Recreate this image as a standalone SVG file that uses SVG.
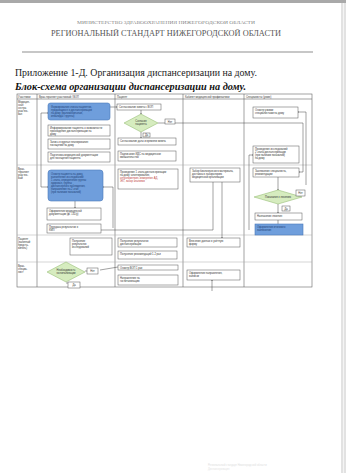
<svg xmlns="http://www.w3.org/2000/svg" width="346" height="473" viewBox="0 0 346 473">
<defs>
<marker id="ah" viewBox="0 0 6 6" refX="5.5" refY="3" markerWidth="3" markerHeight="3" orient="auto"><path d="M0,0 L6,3 L0,6 z" fill="#333"/></marker>
<style>
.ttl{font-family:"Liberation Serif",serif;}
.t{font-family:"Liberation Sans",Arial,sans-serif;font-size:2.6px;fill:#333;}
.tb{font-family:"Liberation Sans",Arial,sans-serif;font-size:2.6px;fill:#1f3f77;}
.tr{font-family:"Liberation Sans",Arial,sans-serif;font-size:2.6px;fill:#c04040;}
.box{fill:#fff;stroke:#555;stroke-width:0.5;}
.blue{fill:#6f9edc;stroke:#4a78b8;stroke-width:0.6;}
.dia{fill:#d6ecbf;stroke:#8ab566;stroke-width:0.5;}
.grid{stroke:#666;stroke-width:0.6;fill:none;}
.gridl{stroke:#aaa;stroke-width:0.5;fill:none;}
.c{stroke:#444;stroke-width:0.5;fill:none;}
.ca{stroke:#444;stroke-width:0.5;fill:none;marker-end:url(#ah);}
</style>
</defs>
<rect x="0" y="0" width="346" height="473" fill="#fff"/>
<rect x="0" y="0" width="346" height="3" fill="#a9a9a9"/>
<rect x="341" y="3" width="5" height="470" fill="#e2e2e2"/>
<rect x="343" y="3" width="1" height="470" fill="#f4f4f4"/>

<g id="header">
<text class="ttl" x="166" y="24" font-size="5" fill="#888" text-anchor="middle" textLength="178" lengthAdjust="spacingAndGlyphs">МИНИСТЕРСТВО ЗДРАВООХРАНЕНИЯ НИЖЕГОРОДСКОЙ ОБЛАСТИ</text>
<text class="ttl" x="166" y="36" font-size="7.5" fill="#555" text-anchor="middle" textLength="230" lengthAdjust="spacingAndGlyphs">РЕГИОНАЛЬНЫЙ СТАНДАРТ НИЖЕГОРОДСКОЙ ОБЛАСТИ</text>
<line x1="22" y1="52" x2="313" y2="52" stroke="#b5b5b5" stroke-width="1.5"/>
<text class="ttl" x="15" y="76" font-size="10" fill="#222" textLength="242" lengthAdjust="spacingAndGlyphs">Приложение 1-Д. Организация  диспансеризации на дому.</text>
<text class="ttl" x="15" y="90" font-size="10" fill="#111" font-weight="bold" font-style="italic" textLength="231" lengthAdjust="spacingAndGlyphs">Блок-схема организации диспансеризации на дому.</text>
</g>

<g id="table">
<rect class="grid" x="17" y="94" width="295" height="193"/>
<line class="grid" x1="37" y1="94" x2="37" y2="287"/>
<line class="grid" x1="115" y1="94" x2="115" y2="287"/>
<line class="grid" x1="183" y1="94" x2="183" y2="287"/>
<line class="grid" x1="244" y1="94" x2="244" y2="287"/>
<line class="grid" x1="17" y1="99" x2="312" y2="99"/>
<line class="gridl" x1="17" y1="165" x2="312" y2="165"/>
<line class="gridl" x1="17" y1="235" x2="312" y2="235"/>
<line class="gridl" x1="17" y1="262" x2="312" y2="262"/>
<text class="t" x="18" y="97.7">Участники</text>
<text class="t" x="39" y="97.7">Врач-терапевт участковый / ВОП</text>
<text class="t" x="117" y="97.7">Пациент</text>
<text class="t" x="185" y="97.7">Кабинет медицинской профилактики</text>
<text class="t" x="246" y="97.7">Специалисты (узкие)</text>
<text class="t" x="18" y="103">Медицин-</text><text class="t" x="18" y="106">ская</text><text class="t" x="18" y="109">сестра</text><text class="t" x="18" y="112">участко-</text><text class="t" x="18" y="115">вая</text>
<text class="t" x="18" y="170">Врач-</text><text class="t" x="18" y="173">терапевт</text><text class="t" x="18" y="176">участко-</text><text class="t" x="18" y="179">вый</text>
<text class="t" x="18" y="240">Пациент</text><text class="t" x="18" y="243">(законный</text><text class="t" x="18" y="246">предста-</text><text class="t" x="18" y="249">витель)</text>
<text class="t" x="18" y="267">Врач-</text><text class="t" x="18" y="270">специа-</text><text class="t" x="18" y="273">лист</text>
</g>

<g id="connectors">
<line class="ca" x1="41" y1="113" x2="48" y2="113"/>
<line class="c" x1="41" y1="113" x2="41" y2="187"/>
<line class="ca" x1="41" y1="187" x2="48" y2="187"/>
<line class="ca" x1="110" y1="107" x2="117" y2="107"/>
<line class="ca" x1="141" y1="110" x2="141" y2="114"/>
<line class="ca" x1="141" y1="132" x2="141" y2="138"/>
<polyline class="c" points="158,123 303,123 303,172"/>
<line class="ca" x1="303" y1="172" x2="299" y2="172"/>
<polyline class="c" points="306,185 306,112"/>
<line class="ca" x1="306" y1="112" x2="298" y2="112"/>
<polyline class="c" points="249,230 249,155"/>
<line class="ca" x1="249" y1="155" x2="253" y2="155"/>
<line class="ca" x1="278" y1="177" x2="278" y2="190"/>
<line class="ca" x1="278" y1="204" x2="278" y2="213"/>
<line class="c" x1="278" y1="220" x2="278" y2="224"/>
<polyline class="c" points="113,228 113,187"/>
<line class="ca" x1="113" y1="187" x2="103" y2="187"/>
<line class="ca" x1="75" y1="201" x2="75" y2="208"/>
<polyline class="c" points="213,182 213,230 101,230"/>
<polyline class="ca" points="222,182 222,238"/>
<line class="ca" x1="66" y1="283" x2="72" y2="283"/>
<line class="c" x1="85" y1="271" x2="87" y2="271"/>
<line class="ca" x1="212" y1="291" x2="212" y2="280"/>
<line class="c" x1="100" y1="270" x2="118" y2="267"/>
</g>

<g id="n-col2-blue1">
<rect class="blue" x="48" y="103" width="62" height="17" rx="2.5"/>
<text class="tb" x="51" y="108">Формирование списка пациентов,</text>
<text class="tb" x="51" y="111">нуждающихся в диспансеризации</text>
<text class="tb" x="51" y="114">на дому (маломобильные,</text>
<text class="tb" x="51" y="117">инвалиды I группы)</text>
</g>
<g id="n-col2-b2">
<rect class="box" x="48" y="125" width="62" height="11"/>
<text class="t" x="50" y="129">Информирование пациента о возможности</text>
<text class="t" x="50" y="132">прохождения диспансеризации на</text>
<text class="t" x="50" y="135">дому</text>
</g>
<g id="n-col2-b3">
<rect class="box" x="48" y="139" width="62" height="10"/>
<text class="t" x="50" y="143">Запись в журнал планирования</text>
<text class="t" x="50" y="146">посещений на дому</text>
</g>
<g id="n-col2-b4">
<rect class="box" x="48" y="152" width="62" height="10"/>
<text class="t" x="50" y="156">Подготовка медицинской документации</text>
<text class="t" x="50" y="159">для посещения пациента</text>
</g>

<g id="n-col3-visit">
<rect class="box" x="117" y="104" width="44" height="6"/>
<text class="t" x="119" y="108">Согласование визита с ВОП</text>
</g>
<g id="n-col3-dia">
<polygon class="dia" points="141,114 158,123 141,132 124,123"/>
<text class="t" x="141" y="122" text-anchor="middle">Согласие</text>
<text class="t" x="141" y="125" text-anchor="middle">пациента</text>
</g>
<g id="n-col3-no">
<rect class="box" x="165" y="119" width="10" height="5"/>
<text class="t" x="170" y="122.5" text-anchor="middle">Нет</text>
</g>
<g id="n-col3-yes">
<rect class="box" x="143" y="133" width="7" height="4"/>
<text class="t" x="146.5" y="136" text-anchor="middle">Да</text>
</g>
<g id="n-col3-a">
<rect class="box" x="118" y="138" width="58" height="7"/>
<text class="t" x="120" y="142">Согласование даты и времени визита</text>
</g>
<g id="n-col3-b">
<rect class="box" x="118" y="151" width="58" height="10"/>
<text class="t" x="120" y="155">Подписание ИДС на медицинское</text>
<text class="t" x="120" y="158">вмешательство</text>
</g>
<g id="n-col3-r2">
<rect class="box" x="118" y="169" width="60" height="20"/>
<text class="t" x="120" y="173">Проведение 1 этапа диспансеризации</text>
<text class="t" x="120" y="176">на дому: анкетирование,</text>
<text class="tr" x="120" y="179">антропометрия, измерение АД,</text>
<text class="tr" x="120" y="182">ЭКГ, забор анализов</text>
</g>

<g id="n-col2-blue2">
<rect class="blue" x="48" y="170" width="55" height="31" rx="3"/>
<text class="tb" x="51" y="175">Осмотр пациента на дому,</text>
<text class="tb" x="51" y="178">выполнение исследований</text>
<text class="tb" x="51" y="181">1 этапа, определение группы</text>
<text class="tb" x="51" y="184">здоровья, группы</text>
<text class="tb" x="51" y="187">диспансерного наблюдения,</text>
<text class="tb" x="51" y="190">направление на 2 этап</text>
<text class="tb" x="51" y="193">(при наличии показаний)</text>
</g>
<g id="n-col2-r2b">
<rect class="box" x="47" y="208" width="54" height="12"/>
<text class="t" x="49" y="212">Оформление медицинской</text>
<text class="t" x="49" y="215">документации (ф. 131/у)</text>
</g>
<g id="n-col2-r2c">
<rect class="box" x="47" y="224" width="54" height="9"/>
<text class="t" x="49" y="228">Передача результатов в</text>
<text class="t" x="49" y="231">КМП</text>
</g>

<g id="n-col4-r2">
<rect class="box" x="190" y="168" width="50" height="14"/>
<text class="t" x="192" y="172">Забор биологического материала,</text>
<text class="t" x="192" y="175">доставка в лабораторию</text>
<text class="t" x="192" y="178">медицинской организации</text>
</g>

<g id="n-col5-a">
<rect class="box" x="253" y="107" width="45" height="11"/>
<text class="t" x="255" y="111">Осмотр узкими</text>
<text class="t" x="255" y="114">специалистами на дому</text>
</g>
<g id="n-col5-b">
<rect class="box" x="253" y="146" width="46" height="17"/>
<text class="t" x="255" y="150">Проведение исследований</text>
<text class="t" x="255" y="153">2 этапа диспансеризации</text>
<text class="t" x="255" y="156">(при наличии показаний)</text>
<text class="t" x="255" y="159">на дому</text>
</g>
<g id="n-col5-c">
<rect class="box" x="253" y="168" width="46" height="9"/>
<text class="t" x="255" y="172">Заключение специалиста,</text>
<text class="t" x="255" y="175">рекомендации</text>
</g>
<g id="n-col5-dia">
<polygon class="dia" points="278,190 302,197 278,204 254,197"/>
<text class="t" x="278" y="198" text-anchor="middle">Показания к лечению</text>
</g>
<g id="n-col5-no">
<rect class="box" x="296" y="190" width="9" height="6"/>
<text class="t" x="300.5" y="194" text-anchor="middle">Нет</text>
</g>
<g id="n-col5-yes">
<rect class="box" x="282" y="206" width="8" height="5"/>
<text class="t" x="286" y="209.5" text-anchor="middle">Да</text>
</g>
<g id="n-col5-d">
<rect class="box" x="255" y="213" width="47" height="7"/>
<text class="t" x="257" y="217">Назначение лечения</text>
</g>
<g id="n-col5-blue">
<rect class="blue" x="255" y="224" width="48" height="11"/>
<text class="tb" x="257" y="228">Оформление итогового</text>
<text class="tb" x="257" y="231">заключения</text>
</g>

<g id="n-col2-r3">
<rect class="box" x="70" y="238" width="42" height="17"/>
<text class="t" x="72" y="242">Получение</text>
<text class="t" x="72" y="245">результатов</text>
<text class="t" x="72" y="248">исследований</text>
</g>
<g id="n-col3-r3a">
<rect class="box" x="118" y="238" width="59" height="9"/>
<text class="t" x="120" y="242">Получение результатов</text>
<text class="t" x="120" y="245">диспансеризации</text>
</g>
<g id="n-col3-r3b">
<rect class="box" x="118" y="251" width="59" height="8"/>
<text class="t" x="120" y="255">Получение рекомендаций 1-2 раз</text>
</g>
<g id="n-col4-r3">
<rect class="box" x="187" y="238" width="53" height="9"/>
<text class="t" x="189" y="242">Внесение данных в учётную</text>
<text class="t" x="189" y="245">форму</text>
</g>

<g id="n-col2-dia">
<polygon class="dia" points="66,262 85,272 66,282 47,272"/>
<text class="t" x="66" y="271" text-anchor="middle">Необходимость</text>
<text class="t" x="66" y="274" text-anchor="middle">госпитализации</text>
</g>
<g id="n-col2-no">
<rect class="box" x="87" y="268" width="11" height="6"/>
<text class="t" x="92.5" y="272" text-anchor="middle">Нет</text>
</g>
<g id="n-col2-yes">
<rect class="box" x="68" y="282" width="12" height="6"/>
<text class="t" x="74" y="286" text-anchor="middle">Да</text>
</g>
<g id="n-col3-r4a">
<rect class="box" x="118" y="265" width="60" height="5"/>
<text class="t" x="120" y="268.5">Осмотр ВОП 1 раз</text>
</g>
<g id="n-col3-r4b">
<rect class="box" x="118" y="275" width="60" height="10"/>
<text class="t" x="120" y="279">Направление на</text>
<text class="t" x="120" y="282">госпитализацию</text>
</g>
<g id="n-col4-r4">
<rect class="box" x="187" y="270" width="53" height="10"/>
<text class="t" x="189" y="274">Оформление направления,</text>
<text class="t" x="189" y="277">выписки</text>
</g>

<g id="footer">
<text class="t" x="208" y="466" style="fill:#ddd">Региональный стандарт Нижегородской области</text>
<text class="t" x="208" y="470" style="fill:#e4e4e4">Диспансеризация</text>
</g>
</svg>
